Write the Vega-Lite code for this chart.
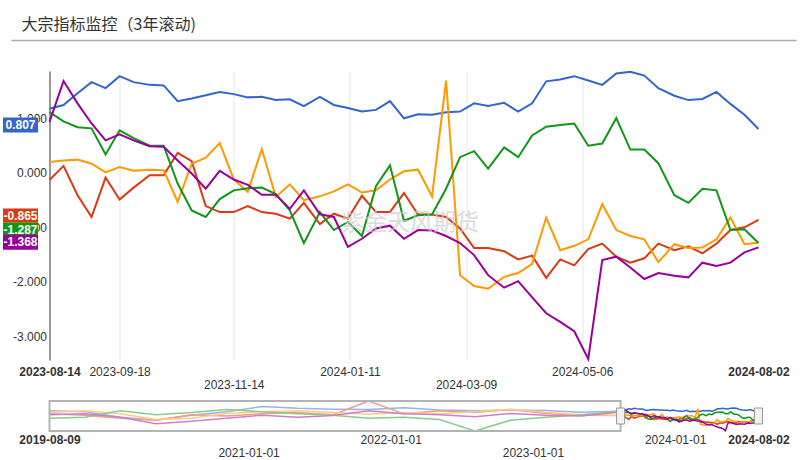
{
  "$schema": "https://vega.github.io/schema/vega-lite/v6.json",
  "autosize": {"type": "pad"},
  "padding": {"left": 2.5, "top": 16, "right": 0, "bottom": 0},
  "background": "white",
  "config": {
    "view": {"stroke": null},
    "font": "Liberation Sans",
    "locale": {"number": {"decimal": ".", "thousands": ",", "grouping": [3], "currency": ["$", ""], "minus": "-"}}
  },
  "title": {"text": "大宗指标监控（3年滚动)", "anchor": "start", "frame": "group", "font": "Noto Sans CJK SC", "fontSize": 16, "fontWeight": "normal", "color": "#333333", "dx": -28, "offset": 7},
  "datasets": {
    "main": [
      {"date": "2023-08-14", "商品指数（Z)": 1.18, "基差（Z)": -0.13, "库存（Z)": 0.20, "情绪（Z)": 1.12, "月差（Z)": 0.94},
      {"date": "2023-08-21", "商品指数（Z)": 1.25, "基差（Z)": 0.13, "库存（Z)": 0.23, "情绪（Z)": 0.95, "月差（Z)": 1.69},
      {"date": "2023-08-28", "商品指数（Z)": 1.465, "基差（Z)": -0.41, "库存（Z)": 0.245, "情绪（Z)": 0.84, "月差（Z)": 1.28},
      {"date": "2023-09-04", "商品指数（Z)": 1.67, "基差（Z)": -0.81, "库存（Z)": 0.17, "情绪（Z)": 0.82, "月差（Z)": 0.91},
      {"date": "2023-09-11", "商品指数（Z)": 1.56, "基差（Z)": -0.085, "库存（Z)": 0.01, "情绪（Z)": 0.34, "月差（Z)": 0.60},
      {"date": "2023-09-18", "商品指数（Z)": 1.78, "基差（Z)": -0.49, "库存（Z)": 0.11, "情绪（Z)": 0.785, "月差（Z)": 0.71},
      {"date": "2023-09-25", "商品指数（Z)": 1.67, "基差（Z)": -0.27, "库存（Z)": 0.04, "情绪（Z)": 0.64, "月差（Z)": 0.60},
      {"date": "2023-10-03", "商品指数（Z)": 1.62, "基差（Z)": -0.04, "库存（Z)": 0.06, "情绪（Z)": 0.50, "月差（Z)": 0.49},
      {"date": "2023-10-10", "商品指数（Z)": 1.61, "基差（Z)": -0.04, "库存（Z)": 0.05, "情绪（Z)": 0.50, "月差（Z)": 0.48},
      {"date": "2023-10-17", "商品指数（Z)": 1.32, "基差（Z)": 0.37, "库存（Z)": -0.53, "情绪（Z)": -0.195, "月差（Z)": 0.23},
      {"date": "2023-10-24", "商品指数（Z)": 1.37, "基差（Z)": 0.215, "库存（Z)": 0.17, "情绪（Z)": -0.69, "月差（Z)": -0.01},
      {"date": "2023-10-31", "商品指数（Z)": 1.43, "基差（Z)": -0.61, "库存（Z)": 0.28, "情绪（Z)": -0.81, "月差（Z)": -0.29},
      {"date": "2023-11-07", "商品指数（Z)": 1.49, "基差（Z)": -0.72, "库存（Z)": 0.55, "情绪（Z)": -0.48, "月差（Z)": 0.04},
      {"date": "2023-11-14", "商品指数（Z)": 1.45, "基差（Z)": -0.72, "库存（Z)": -0.12, "情绪（Z)": -0.32, "月差（Z)": -0.12},
      {"date": "2023-11-21", "商品指数（Z)": 1.39, "基差（Z)": -0.61, "库存（Z)": -0.35, "情绪（Z)": -0.28, "月差（Z)": -0.22},
      {"date": "2023-11-28", "商品指数（Z)": 1.40, "基差（Z)": -0.72, "库存（Z)": 0.44, "情绪（Z)": -0.27, "月差（Z)": -0.40},
      {"date": "2023-12-05", "商品指数（Z)": 1.34, "基差（Z)": -0.75, "库存（Z)": -0.44, "情绪（Z)": -0.39, "月差（Z)": -0.40},
      {"date": "2023-12-12", "商品指数（Z)": 1.355, "基差（Z)": -0.84, "库存（Z)": -0.21, "情绪（Z)": -0.69, "月差（Z)": -0.66},
      {"date": "2023-12-19", "商品指数（Z)": 1.23, "基差（Z)": -0.55, "库存（Z)": -0.50, "情绪（Z)": -1.29, "月差（Z)": -0.32},
      {"date": "2023-12-27", "商品指数（Z)": 1.40, "基差（Z)": -0.94, "库存（Z)": -0.43, "情绪（Z)": -0.72, "月差（Z)": -0.76},
      {"date": "2024-01-03", "商品指数（Z)": 1.25, "基差（Z)": -0.75, "库存（Z)": -0.34, "情绪（Z)": -1.05, "月差（Z)": -0.81},
      {"date": "2024-01-10", "商品指数（Z)": 1.195, "基差（Z)": -0.84, "库存（Z)": -0.21, "情绪（Z)": -0.90, "月差（Z)": -1.36},
      {"date": "2024-01-17", "商品指数（Z)": 1.13, "基差（Z)": -0.42, "库存（Z)": -0.36, "情绪（Z)": -1.16, "月差（Z)": -1.21},
      {"date": "2024-01-24", "商品指数（Z)": 1.16, "基差（Z)": -0.72, "库存（Z)": -0.32, "情绪（Z)": -0.245, "月差（Z)": -1.02},
      {"date": "2024-01-31", "商品指数（Z)": 1.32, "基差（Z)": -0.72, "库存（Z)": -0.12, "情绪（Z)": 0.14, "月差（Z)": -0.97},
      {"date": "2024-02-07", "商品指数（Z)": 1.005, "基差（Z)": -0.37, "库存（Z)": 0.03, "情绪（Z)": -0.88, "月差（Z)": -1.21},
      {"date": "2024-02-14", "商品指数（Z)": 1.08, "基差（Z)": -0.765, "库存（Z)": 0.06, "情绪（Z)": -0.78, "月差（Z)": -1.05},
      {"date": "2024-02-21", "商品指数（Z)": 1.07, "基差（Z)": -0.765, "库存（Z)": -0.43, "情绪（Z)": -0.765, "月差（Z)": -1.06},
      {"date": "2024-02-28", "商品指数（Z)": 1.115, "基差（Z)": -0.81, "库存（Z)": 1.70, "情绪（Z)": -0.29, "月差（Z)": -1.16},
      {"date": "2024-03-06", "商品指数（Z)": 1.13, "基差（Z)": -1.02, "库存（Z)": -1.88, "情绪（Z)": 0.29, "月差（Z)": -1.29},
      {"date": "2024-03-13", "商品指数（Z)": 1.28, "基差（Z)": -1.38, "库存（Z)": -2.08, "情绪（Z)": 0.40, "月差（Z)": -1.51},
      {"date": "2024-03-20", "商品指数（Z)": 1.23, "基差（Z)": -1.38, "库存（Z)": -2.13, "情绪（Z)": 0.08, "月差（Z)": -1.88},
      {"date": "2024-03-28", "商品指数（Z)": 1.29, "基差（Z)": -1.44, "库存（Z)": -1.91, "情绪（Z)": 0.47, "月差（Z)": -2.11},
      {"date": "2024-04-04", "商品指数（Z)": 1.13, "基差（Z)": -1.59, "库存（Z)": -1.84, "情绪（Z)": 0.29, "月差（Z)": -1.99},
      {"date": "2024-04-11", "商品指数（Z)": 1.28, "基差（Z)": -1.52, "库存（Z)": -1.67, "情绪（Z)": 0.69, "月差（Z)": -2.29},
      {"date": "2024-04-18", "商品指数（Z)": 1.685, "基差（Z)": -1.93, "库存（Z)": -0.82, "情绪（Z)": 0.85, "月差（Z)": -2.58},
      {"date": "2024-04-25", "商品指数（Z)": 1.72, "基差（Z)": -1.59, "库存（Z)": -1.42, "情绪（Z)": 0.88, "月差（Z)": -2.74},
      {"date": "2024-05-02", "商品指数（Z)": 1.78, "基差（Z)": -1.70, "库存（Z)": -1.34, "情绪（Z)": 0.91, "月差（Z)": -2.91},
      {"date": "2024-05-09", "商品指数（Z)": 1.70, "基差（Z)": -1.40, "库存（Z)": -1.22, "情绪（Z)": 0.50, "月差（Z)": -3.42},
      {"date": "2024-05-16", "商品指数（Z)": 1.62, "基差（Z)": -1.30, "库存（Z)": -0.575, "情绪（Z)": 0.54, "月差（Z)": -1.60},
      {"date": "2024-05-23", "商品指数（Z)": 1.83, "基差（Z)": -1.54, "库存（Z)": -1.05, "情绪（Z)": 1.01, "月差（Z)": -1.54},
      {"date": "2024-05-30", "商品指数（Z)": 1.86, "基差（Z)": -1.65, "库存（Z)": -1.16, "情绪（Z)": 0.43, "月差（Z)": -1.74},
      {"date": "2024-06-06", "商品指数（Z)": 1.79, "基差（Z)": -1.57, "库存（Z)": -1.22, "情绪（Z)": 0.43, "月差（Z)": -1.95},
      {"date": "2024-06-13", "商品指数（Z)": 1.56, "基差（Z)": -1.30, "库存（Z)": -1.64, "情绪（Z)": 0.18, "月差（Z)": -1.84},
      {"date": "2024-06-21", "商品指数（Z)": 1.42, "基差（Z)": -1.42, "库存（Z)": -1.31, "情绪（Z)": -0.41, "月差（Z)": -1.89},
      {"date": "2024-06-28", "商品指数（Z)": 1.34, "基差（Z)": -1.35, "库存（Z)": -1.38, "情绪（Z)": -0.55, "月差（Z)": -1.92},
      {"date": "2024-07-05", "商品指数（Z)": 1.36, "基差（Z)": -1.48, "库存（Z)": -1.37, "情绪（Z)": -0.29, "月差（Z)": -1.65},
      {"date": "2024-07-12", "商品指数（Z)": 1.49, "基差（Z)": -1.30, "库存（Z)": -1.22, "情绪（Z)": -0.32, "月差（Z)": -1.71},
      {"date": "2024-07-19", "商品指数（Z)": 1.27, "基差（Z)": -1.05, "库存（Z)": -0.82, "情绪（Z)": -1.05, "月差（Z)": -1.65},
      {"date": "2024-07-26", "商品指数（Z)": 1.07, "基差（Z)": -1.00, "库存（Z)": -1.31, "情绪（Z)": -1.035, "月差（Z)": -1.46},
      {"date": "2024-08-02", "商品指数（Z)": 0.807, "基差（Z)": -0.865, "库存（Z)": -1.28, "情绪（Z)": -1.287, "月差（Z)": -1.368}
    ],
    "history": [
      {"date": "2019-08-09", "商品指数（Z)": 1.2, "基差（Z)": 0.5, "库存（Z)": 0.8, "情绪（Z)": -0.5, "月差（Z)": 0.3},
      {"date": "2019-11-08", "商品指数（Z)": 1.0, "基差（Z)": 0.2, "库存（Z)": 1.2, "情绪（Z)": -0.3, "月差（Z)": 0.5},
      {"date": "2020-02-07", "商品指数（Z)": -0.3, "基差（Z)": -0.5, "库存（Z)": 0.5, "情绪（Z)": 1.2, "月差（Z)": -0.3},
      {"date": "2020-05-08", "商品指数（Z)": -1.0, "基差（Z)": -1.0, "库存（Z)": -0.8, "情绪（Z)": 0.3, "月差（Z)": -1.8},
      {"date": "2020-08-07", "商品指数（Z)": 0.2, "基差（Z)": 0.3, "库存（Z)": -0.5, "情绪（Z)": 0.8, "月差（Z)": -1.2},
      {"date": "2020-11-06", "商品指数（Z)": 1.0, "基差（Z)": 0.0, "库存（Z)": 0.6, "情绪（Z)": 1.5, "月差（Z)": -0.5},
      {"date": "2021-02-05", "商品指数（Z)": 2.2, "基差（Z)": 0.5, "库存（Z)": 1.0, "情绪（Z)": 1.0, "月差（Z)": 0.2},
      {"date": "2021-05-07", "商品指数（Z)": 1.8, "基差（Z)": 0.8, "库存（Z)": 1.2, "情绪（Z)": 0.5, "月差（Z)": -0.3},
      {"date": "2021-08-06", "商品指数（Z)": 1.6, "基差（Z)": 0.3, "库存（Z)": 0.8, "情绪（Z)": 0.2, "月差（Z)": 0.1},
      {"date": "2021-11-05", "商品指数（Z)": 1.5, "基差（Z)": 3.5, "库存（Z)": 0.4, "情绪（Z)": -0.5, "月差（Z)": 1.2},
      {"date": "2022-02-04", "商品指数（Z)": 1.9, "基差（Z)": 0.5, "库存（Z)": 0.8, "情绪（Z)": -0.3, "月差（Z)": 0.5},
      {"date": "2022-05-06", "商品指数（Z)": 1.4, "基差（Z)": 1.2, "库存（Z)": 0.5, "情绪（Z)": -0.8, "月差（Z)": 0.3},
      {"date": "2022-08-05", "商品指数（Z)": 1.2, "基差（Z)": 0.8, "库存（Z)": 1.0, "情绪（Z)": -3.5, "月差（Z)": -0.2},
      {"date": "2022-11-04", "商品指数（Z)": 1.4, "基差（Z)": 1.5, "库存（Z)": 1.6, "情绪（Z)": -1.0, "月差（Z)": 0.6},
      {"date": "2023-02-03", "商品指数（Z)": 1.3, "基差（Z)": 0.6, "库存（Z)": 0.9, "情绪（Z)": -0.3, "月差（Z)": 0.2},
      {"date": "2023-05-05", "商品指数（Z)": 0.9, "基差（Z)": 0.2, "库存（Z)": 0.3, "情绪（Z)": 0.3, "月差（Z)": 0.0},
      {"date": "2023-08-07", "商品指数（Z)": 1.1, "基差（Z)": 0.1, "库存（Z)": 0.2, "情绪（Z)": 1.0, "月差（Z)": 0.9}
    ]
  },
  "bounds": "flush",
  "spacing": 41,
  "resolve": {"scale": {"color": "independent"}, "legend": {"color": "independent"}},
  "vconcat": [
    {
      "width": 709,
      "height": 289,
      "data": {"name": "main"},
      "transform": [{"fold": ["商品指数（Z)", "基差（Z)", "库存（Z)", "情绪（Z)", "月差（Z)"], "as": ["key", "value"]}],
      "layer": [
        {
          "mark": {"type": "line", "strokeWidth": 2},
          "encoding": {
            "x": {
              "field": "date", "type": "temporal",
              "scale": {"type": "utc", "domain": [{"year": 2023, "month": 8, "date": 14, "utc": true}, {"year": 2024, "month": 8, "date": 2, "utc": true}]},
              "axis": {
                "title": null,
                "values": [
                  {"year": 2023, "month": 8, "date": 14, "utc": true},
                  {"year": 2023, "month": 9, "date": 18, "utc": true},
                  {"year": 2023, "month": 11, "date": 14, "utc": true},
                  {"year": 2024, "month": 1, "date": 11, "utc": true},
                  {"year": 2024, "month": 3, "date": 9, "utc": true},
                  {"year": 2024, "month": 5, "date": 6, "utc": true},
                  {"year": 2024, "month": 8, "date": 2, "utc": true}
                ],
                "format": "%Y-%m-%d",
                "labelExpr": "indexof(['2023-11-14', '2024-03-09'], datum.label) >= 0 ? ['', datum.label] : datum.label",
                "labelFontWeight": {"condition": {"test": "time(datum.value) == utc(2023, 7, 14) || time(datum.value) == utc(2024, 7, 2)", "value": "bold"}, "value": "normal"},
                "grid": true,
                "gridColor": {"condition": {"test": "time(datum.value) == utc(2023, 7, 14) || time(datum.value) == utc(2024, 7, 2)", "value": "transparent"}, "value": "#e6e6e6"},
                "ticks": false,
                "domain": false,
                "labelFlush": false,
                "labelOverlap": false,
                "labelBound": false,
                "labelPadding": 6,
                "labelFont": "Liberation Sans",
                "labelFontSize": 12,
                "labelColor": "#333333",
                "labelLineHeight": 13
              }
            },
            "y": {
              "field": "value", "type": "quantitative",
              "scale": {"domain": [-3.44, 1.875], "zero": false, "nice": false},
              "axis": {"title": null, "values": [-3, -2, -1, 0, 1], "format": ".3f", "grid": false, "ticks": false, "domain": true, "domainColor": "#333333", "domainWidth": 1, "labelPadding": 3, "labelFont": "Liberation Sans", "labelFontSize": 12, "labelColor": "#333333"}
            },
            "color": {"field": "key", "type": "nominal", "legend": null}
          }
        },
        {
          "data": {"values": [{}]},
          "mark": {"type": "rule", "color": "#aaaaaa", "strokeWidth": 1.5},
          "encoding": {
            "x": {"datum": {"year": 2023, "month": 7, "date": 26, "utc": true}, "type": "temporal"},
            "x2": {"datum": {"year": 2024, "month": 8, "date": 21, "utc": true}},
            "y": {"datum": 2.435, "type": "quantitative"}
          }
        },
        {
          "data": {"values": [{}]},
          "mark": {"type": "text", "text": "紫金天风期货", "font": "Noto Sans CJK SC", "fontSize": 23, "color": "#cccccc", "opacity": 0.7},
          "encoding": {
            "x": {"datum": {"year": 2024, "month": 2, "date": 10, "utc": true}, "type": "temporal"},
            "y": {"datum": -0.92, "type": "quantitative"}
          }
        },
        {
          "transform": [{"filter": "time(datum.date) == utc(2024, 7, 2)"}, {"filter": {"field": "key", "oneOf": ["商品指数（Z)", "基差（Z)"]}}],
          "mark": {"type": "point", "shape": "M-1,-0.43H1V0.43H-1Z", "size": 1225, "filled": true, "opacity": 1, "strokeWidth": 0, "xOffset": -29, "yOffset": -4},
          "encoding": {
            "x": {"datum": {"year": 2023, "month": 8, "date": 14, "utc": true}, "type": "temporal"},
            "y": {"field": "value", "type": "quantitative"},
            "color": {
              "field": "key", "type": "nominal",
              "scale": {"domain": ["商品指数（Z)", "基差（Z)", "库存（Z)", "情绪（Z)", "月差（Z)"], "range": ["#3366cc", "#dc3912", "#ff9900", "#109618", "#990099"]},
              "legend": {"orient": "none", "legendX": 243, "legendY": -18, "direction": "horizontal", "columns": 5, "title": null, "symbolType": "circle", "symbolSize": 100, "symbolStrokeWidth": 0, "labelFont": "Noto Sans CJK SC", "labelFontSize": 12, "labelColor": "#333333", "labelOffset": 3, "columnPadding": 22.5}
            }
          }
        },
        {
          "transform": [{"filter": "time(datum.date) == utc(2024, 7, 2)"}, {"filter": {"field": "key", "oneOf": ["库存（Z)", "情绪（Z)"]}}],
          "mark": {"type": "point", "shape": "M-1,-0.43H1V0.43H-1Z", "size": 1225, "filled": true, "opacity": 1, "strokeWidth": 0, "xOffset": -29, "yOffset": -13},
          "encoding": {
            "x": {"datum": {"year": 2023, "month": 8, "date": 14, "utc": true}, "type": "temporal"},
            "y": {"field": "value", "type": "quantitative"},
            "color": {"field": "key", "type": "nominal", "legend": null}
          }
        },
        {
          "transform": [{"filter": "time(datum.date) == utc(2024, 7, 2)"}, {"filter": {"field": "key", "oneOf": ["商品指数（Z)", "基差（Z)"]}}],
          "mark": {"type": "text", "color": "white", "font": "Liberation Sans", "fontSize": 12, "fontWeight": "bold", "align": "center", "baseline": "middle", "xOffset": -29, "yOffset": -4},
          "encoding": {
            "x": {"datum": {"year": 2023, "month": 8, "date": 14, "utc": true}, "type": "temporal"},
            "y": {"field": "value", "type": "quantitative"},
            "text": {"field": "value", "type": "quantitative", "format": ".3f"}
          }
        },
        {
          "transform": [{"filter": "time(datum.date) == utc(2024, 7, 2)"}, {"filter": {"field": "key", "oneOf": ["情绪（Z)"]}}],
          "mark": {"type": "text", "color": "white", "font": "Liberation Sans", "fontSize": 12, "fontWeight": "bold", "align": "center", "baseline": "middle", "xOffset": -29, "yOffset": -13},
          "encoding": {
            "x": {"datum": {"year": 2023, "month": 8, "date": 14, "utc": true}, "type": "temporal"},
            "y": {"field": "value", "type": "quantitative"},
            "text": {"field": "value", "type": "quantitative", "format": ".3f"}
          }
        },
        {
          "transform": [{"filter": "time(datum.date) == utc(2024, 7, 2)"}, {"filter": {"field": "key", "oneOf": ["月差（Z)"]}}],
          "mark": {"type": "point", "shape": "M-1,-0.43H1V0.43H-1Z", "size": 1225, "filled": true, "opacity": 1, "strokeWidth": 0, "xOffset": -29, "yOffset": -5},
          "encoding": {
            "x": {"datum": {"year": 2023, "month": 8, "date": 14, "utc": true}, "type": "temporal"},
            "y": {"field": "value", "type": "quantitative"},
            "color": {"field": "key", "type": "nominal", "legend": null}
          }
        },
        {
          "transform": [{"filter": "time(datum.date) == utc(2024, 7, 2)"}, {"filter": {"field": "key", "oneOf": ["月差（Z)"]}}],
          "mark": {"type": "text", "color": "white", "font": "Liberation Sans", "fontSize": 12, "fontWeight": "bold", "align": "center", "baseline": "middle", "xOffset": -29, "yOffset": -5},
          "encoding": {
            "x": {"datum": {"year": 2023, "month": 8, "date": 14, "utc": true}, "type": "temporal"},
            "y": {"field": "value", "type": "quantitative"},
            "text": {"field": "value", "type": "quantitative", "format": ".3f"}
          }
        }
      ]
    },
    {
      "width": 709,
      "height": 30,
      "layer": [
        {
          "data": {"name": "history"},
          "transform": [{"fold": ["商品指数（Z)", "基差（Z)", "库存（Z)", "情绪（Z)", "月差（Z)"], "as": ["key", "value"]}],
          "mark": {"type": "line", "strokeWidth": 1.5},
          "encoding": {
            "x": {
              "field": "date", "type": "temporal",
              "scale": {"type": "utc", "domain": [{"year": 2019, "month": 8, "date": 9, "utc": true}, {"year": 2024, "month": 8, "date": 2, "utc": true}]},
              "axis": {
                "title": null,
                "values": [
                  {"year": 2019, "month": 8, "date": 9, "utc": true},
                  {"year": 2021, "month": 1, "date": 1, "utc": true},
                  {"year": 2022, "month": 1, "date": 1, "utc": true},
                  {"year": 2023, "month": 1, "date": 1, "utc": true},
                  {"year": 2024, "month": 1, "date": 1, "utc": true},
                  {"year": 2024, "month": 8, "date": 2, "utc": true}
                ],
                "format": "%Y-%m-%d",
                "labelExpr": "indexof(['2021-01-01', '2023-01-01'], datum.label) >= 0 ? ['', datum.label] : datum.label",
                "labelFontWeight": {"condition": {"test": "time(datum.value) == utc(2019, 7, 9) || time(datum.value) == utc(2024, 7, 2)", "value": "bold"}, "value": "normal"},
                "grid": false,
                "ticks": false,
                "domain": false,
                "labelFlush": false,
                "labelOverlap": false,
                "labelBound": false,
                "labelPadding": 3,
                "labelFont": "Liberation Sans",
                "labelFontSize": 12,
                "labelColor": "#333333",
                "labelLineHeight": 13
              }
            },
            "y": {"field": "value", "type": "quantitative", "scale": {"zero": false, "nice": false}, "axis": null},
            "color": {
              "field": "key", "type": "nominal",
              "scale": {"domain": ["商品指数（Z)", "基差（Z)", "库存（Z)", "情绪（Z)", "月差（Z)"], "range": ["#3366cc", "#dc3912", "#ff9900", "#109618", "#990099"]},
              "legend": null
            }
          }
        },
        {
          "data": {"values": [{}]},
          "mark": {"type": "rect", "fill": "white", "fillOpacity": 0.5, "stroke": "#b3b3b3", "strokeWidth": 2},
          "encoding": {
            "x": {"datum": {"year": 2019, "month": 8, "date": 9, "utc": true}, "type": "temporal"},
            "x2": {"datum": {"year": 2023, "month": 8, "date": 14, "utc": true}}
          }
        },
        {
          "data": {"name": "main"},
          "transform": [{"fold": ["商品指数（Z)", "基差（Z)", "库存（Z)", "情绪（Z)", "月差（Z)"], "as": ["key", "value"]}],
          "mark": {"type": "line", "strokeWidth": 1.5},
          "encoding": {
            "x": {"field": "date", "type": "temporal"},
            "y": {"field": "value", "type": "quantitative", "scale": {"zero": false, "nice": false}},
            "color": {"field": "key", "type": "nominal", "legend": null}
          }
        },
        {
          "data": {"values": [{"d": "2023-08-14"}, {"d": "2024-08-02"}]},
          "mark": {"type": "point", "shape": "M-0.5,-1H0.5V1H-0.5Z", "size": 256, "filled": true, "fill": "#f2f2f2", "stroke": "#999999", "strokeWidth": 1, "opacity": 1},
          "encoding": {
            "x": {"field": "d", "type": "temporal"}
          }
        }
      ]
    }
  ]
}
